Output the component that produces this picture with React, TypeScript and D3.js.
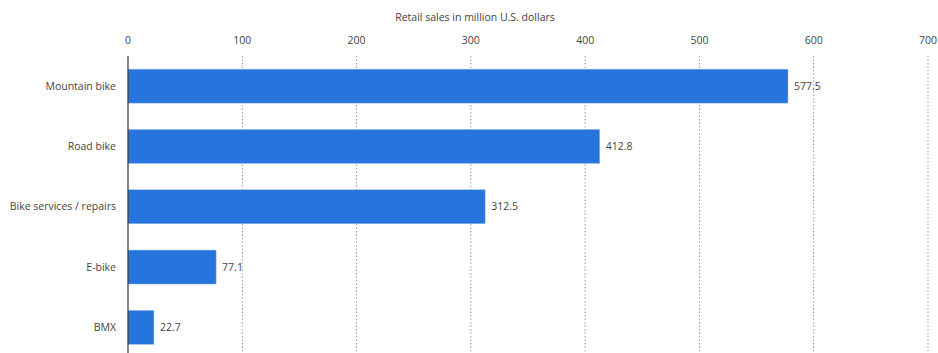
import React from "react";
import * as d3 from "d3";

const categories = ["Mountain bike", "Road bike", "Bike services / repairs", "E-bike", "BMX"];
const values = [577.5, 412.8, 312.5, 77.1, 22.7];
const valueLabels = ["577.5", "412.8", "312.5", "77.1", "22.7"];
const ticks = [0, 100, 200, 300, 400, 500, 600, 700];
const axisTitle = "Retail sales in million U.S. dollars";

export default function App() {
  const W = 938, H = 353;
  const x = d3.scaleLinear().domain([0, 700]).range([128, 928]);
  const y = d3.scaleBand().domain(categories).range([56, 357.5]).paddingInner(0.436).paddingOuter(0.218);
  const font = "'Open Sans', sans-serif";
  return (
    <svg width={W} height={H} style={{ position: "absolute", left: 0, top: 0 }}>
      <text x={475} y={21} textAnchor="middle" fontSize={10.5} fill="#444" fontFamily={font}>{axisTitle}</text>
      {ticks.map((t) => (
        <g key={t}>
          <text x={x(t)} y={44} textAnchor="middle" fontSize={10.5} fill="#444" fontFamily={font}>{t}</text>
          {t > 0 && <line x1={x(t)} x2={x(t)} y1={56} y2={H} stroke="#999" strokeDasharray="1.5,2" strokeWidth={1} />}
        </g>
      ))}
      {categories.map((c, i) => (
        <g key={c}>
          <rect x={x(0)} y={y(c)!} width={x(values[i]) - x(0)} height={y.bandwidth()} fill="#2775dc" stroke="#9cc0f0" strokeWidth={0.5} />
          <text x={116} y={y(c)! + y.bandwidth() / 2} dy="0.35em" textAnchor="end" fontSize={10.5} fill="#444" fontFamily={font}>{c}</text>
          <text x={x(values[i]) + 6} y={y(c)! + y.bandwidth() / 2} dy="0.35em" textAnchor="start" fontSize={10.5} fill="#444" fontFamily={font}>{valueLabels[i]}</text>
        </g>
      ))}
      <line x1={x(0)} x2={x(0)} y1={56} y2={H} stroke="#333" strokeWidth={1.2} />
    </svg>
  );
}
